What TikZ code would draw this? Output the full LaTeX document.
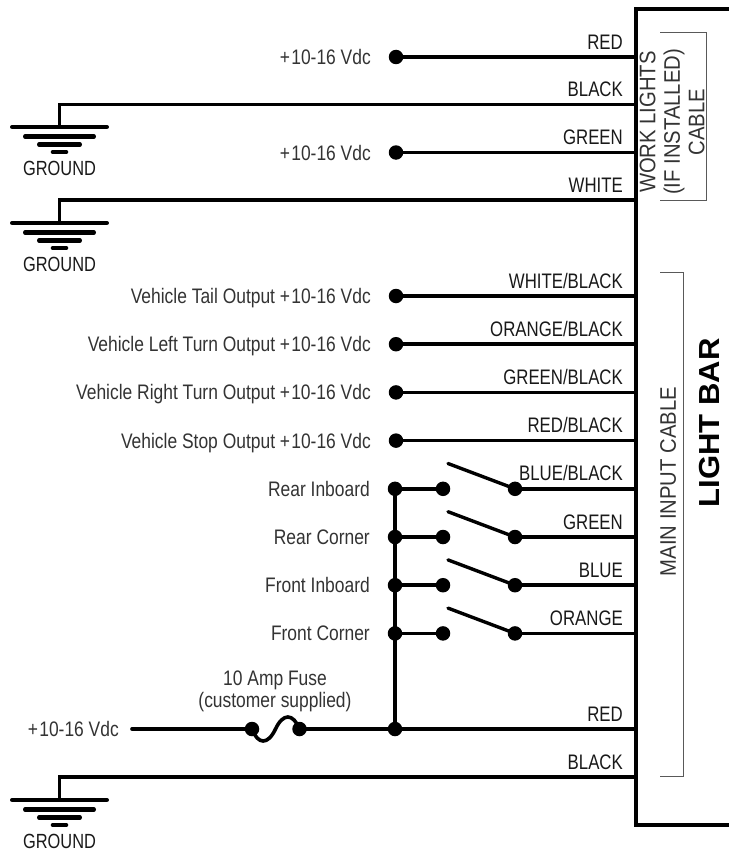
\documentclass[tikz,border=0pt]{standalone}
\usepackage{fontspec}
\setmainfont{Liberation Sans}
\newfontfamily\wfont[FakeStretch=0.80]{Liberation Sans}
\newfontfamily\lfont[FakeStretch=0.83]{Liberation Sans}
\newfontfamily\cfont[FakeStretch=0.90]{Liberation Sans}
\newfontfamily\bbfont[FakeStretch=1.07]{Liberation Sans}
\newcommand{\vsup}{+\kern1.2pt10-16 Vdc}
\begin{document}
\begin{tikzpicture}[x=1pt,y=-1pt,
  wire/.style={line width=3.6pt},
  boxline/.style={line width=4.4pt},
  dot/.style={circle, fill=black, draw=none, inner sep=0pt, minimum size=14.5pt},
  wlabel/.style={font=\wfont\fontsize{21}{24}\selectfont, anchor=base east, inner sep=0pt, text=black!90},
  llabel/.style={font=\lfont\fontsize{21}{24}\selectfont, anchor=base east, inner sep=0pt, text=black!80},
  flabel/.style={font=\lfont\fontsize{21}{21.7}\selectfont, align=center, inner sep=0pt, text=black!80},
  gtext/.style={font=\wfont\fontsize{20.5}{22}\selectfont, inner sep=0pt, text=black!90},
  ctext/.style={font=\cfont\fontsize{22.5}{24.5}\selectfont, align=center, rotate=90, inner sep=0pt, text=black!80},
  bigtext/.style={font=\bbfont\bfseries\fontsize{29}{32}\selectfont, rotate=90, inner sep=0pt},
  bracket/.style={line width=1pt, draw=black!65},
  lever/.style={line width=3.4pt, line cap=round},
  gbar/.style={line width=4.4pt, line cap=round},
  gnd/.pic={
    \draw[gbar] (-47.3,0) -- (47.3,0);
    \draw[gbar] (-34.3,9.5) -- (34.3,9.5);
    \draw[gbar] (-20.3,17.5) -- (20.3,17.5);
    \draw[gbar] (-6.6,25) -- (6.6,25);
  }]
\useasboundingbox (0,0) rectangle (728,851);

% ---------- light bar box ----------
\coordinate (boxTR) at (730,9);
\coordinate (boxBL) at (636,825);
\coordinate (boxBR) at (730,825);
\draw[boxline] (boxTR) -| (boxBL) -- (boxBR);

% edge points on the box
\coordinate (e1) at (636,57);
\coordinate (e2) at (636,104.5);
\coordinate (e3) at (636,152.5);
\coordinate (e4) at (636,200);
\coordinate (e5) at (636,296);
\coordinate (e6) at (636,344.2);
\coordinate (e7) at (636,392.4);
\coordinate (e8) at (636,440.6);
\coordinate (e9) at (636,488.8);
\coordinate (e10) at (636,537);
\coordinate (e11) at (636,585.2);
\coordinate (e12) at (636,633.4);
\coordinate (e13) at (636,729);
\coordinate (e14) at (636,777);

% ---------- work lights cable ----------
\node[dot] (d1) at (396,57) {};
\node[dot] (d3) at (396,152.5) {};
\draw[wire] (d1.center) -- (e1);
\draw[wire] (d3.center) -- (e3);
\node[llabel] (t1) at (371,64.5) {\vsup};
\node[llabel] (t3) at (371,160) {\vsup};

\coordinate (g1) at (59.5,127);
\coordinate (g2) at (59.5,223);
\draw[wire] (e2) -| (g1);
\draw[wire] (e4) -| (g2);
\pic at (g1) {gnd};
\pic at (g2) {gnd};
\node[gtext] (gt1) at (59.5,168.5) {GROUND};
\node[gtext] (gt2) at (59.5,264.5) {GROUND};

\node[wlabel] (w1) at (623,49) {RED};
\node[wlabel] (w2) at (623,96.5) {BLACK};
\node[wlabel] (w3) at (623,144.5) {GREEN};
\node[wlabel] (w4) at (623,192) {WHITE};

% ---------- vehicle outputs ----------
\node[dot] (d5) at (396,296) {};
\node[dot] (d6) at (396,344.2) {};
\node[dot] (d7) at (396,392.4) {};
\node[dot] (d8) at (396,440.6) {};
\draw[wire] (d5.center) -- (e5);
\draw[wire] (d6.center) -- (e6);
\draw[wire] (d7.center) -- (e7);
\draw[wire] (d8.center) -- (e8);
\node[llabel] (t5) at (371,303.5) {Vehicle Tail Output \vsup};
\node[llabel] (t6) at (371,351.7) {Vehicle Left Turn Output \vsup};
\node[llabel] (t7) at (371,399.9) {Vehicle Right Turn Output \vsup};
\node[llabel] (t8) at (371,448.1) {Vehicle Stop Output \vsup};
\node[wlabel] (w5) at (623,288) {WHITE/BLACK};
\node[wlabel] (w6) at (623,336.2) {ORANGE/BLACK};
\node[wlabel] (w7) at (623,384.4) {GREEN/BLACK};
\node[wlabel] (w8) at (623,432.6) {RED/BLACK};

% ---------- switches ----------
\node[dot] (b1) at (395,488.8) {};
\node[dot] (b2) at (395,537) {};
\node[dot] (b3) at (395,585.2) {};
\node[dot] (b4) at (395,633.4) {};
\node[dot] (bj) at (395,729) {};
\node[dot] (sl1) at (443,488.8) {};
\node[dot] (sl2) at (443,537) {};
\node[dot] (sl3) at (443,585.2) {};
\node[dot] (sl4) at (443,633.4) {};
\node[dot] (sr1) at (515,488.8) {};
\node[dot] (sr2) at (515,537) {};
\node[dot] (sr3) at (515,585.2) {};
\node[dot] (sr4) at (515,633.4) {};
\coordinate (lv1) at (448,463.5);
\coordinate (lv2) at (448,511.7);
\coordinate (lv3) at (448,559.9);
\coordinate (lv4) at (448,608.1);

\draw[wire] (b1.center) -- (bj.center);
\draw[wire] (b1.center) -- (sl1.center);
\draw[wire] (b2.center) -- (sl2.center);
\draw[wire] (b3.center) -- (sl3.center);
\draw[wire] (b4.center) -- (sl4.center);
\draw[lever] (sr1.center) -- (lv1);
\draw[lever] (sr2.center) -- (lv2);
\draw[lever] (sr3.center) -- (lv3);
\draw[lever] (sr4.center) -- (lv4);
\draw[wire] (sr1.center) -- (e9);
\draw[wire] (sr2.center) -- (e10);
\draw[wire] (sr3.center) -- (e11);
\draw[wire] (sr4.center) -- (e12);

\node[llabel] (r1) at (370,496.3) {Rear Inboard};
\node[llabel] (r2) at (370,544.5) {Rear Corner};
\node[llabel] (r3) at (370,592.7) {Front Inboard};
\node[llabel] (r4) at (370,640.9) {Front Corner};
\node[wlabel] (w9) at (623,480.8) {BLUE/BLACK};
\node[wlabel] (w10) at (623,529) {GREEN};
\node[wlabel] (w11) at (623,577.2) {BLUE};
\node[wlabel] (w12) at (623,625.4) {ORANGE};

% ---------- power input with fuse ----------
\coordinate (s0) at (132,729);
\node[dot] (f1) at (252,729) {};
\node[dot] (f2) at (299.5,729) {};
\draw[wire, line cap=round] (s0) -- (f1.center);
\draw[wire] (f1.center) .. controls (258,745) and (268,745) .. (275.5,729)
  .. controls (283,713) and (293,713) .. (f2.center);
\draw[wire] (f2.center) -- (bj.center) -- (e13);
\node[llabel] (ts) at (119,736.5) {\vsup};
\node[flabel] (fl) at (275,691) {10 Amp Fuse\\(customer supplied)};
\node[wlabel] (w13) at (623,721) {RED};

% ---------- ground ----------
\coordinate (g3) at (59.5,800);
\draw[wire] (e14) -| (g3);
\pic at (g3) {gnd};
\node[gtext] (gt3) at (59.5,841) {GROUND};
\node[wlabel] (w14) at (623,769) {BLACK};

% ---------- cable brackets and titles ----------
\coordinate (k1) at (660,32.7);
\coordinate (k2) at (706.7,200);
\draw[bracket] (k1) -| (k2) -- (660,200);
\node[ctext] (wl) at (672,122) {WORK LIGHTS\\(IF INSTALLED)\\CABLE};

\coordinate (m1) at (660,272.7);
\coordinate (m2) at (683.3,776);
\draw[bracket] (m1) -| (m2) -- (660,776);
\node[ctext] (mi) at (668,481.5) {MAIN INPUT CABLE};

\node[bigtext] (lb) at (710,423) {LIGHT BAR};
\end{tikzpicture}
\end{document}
